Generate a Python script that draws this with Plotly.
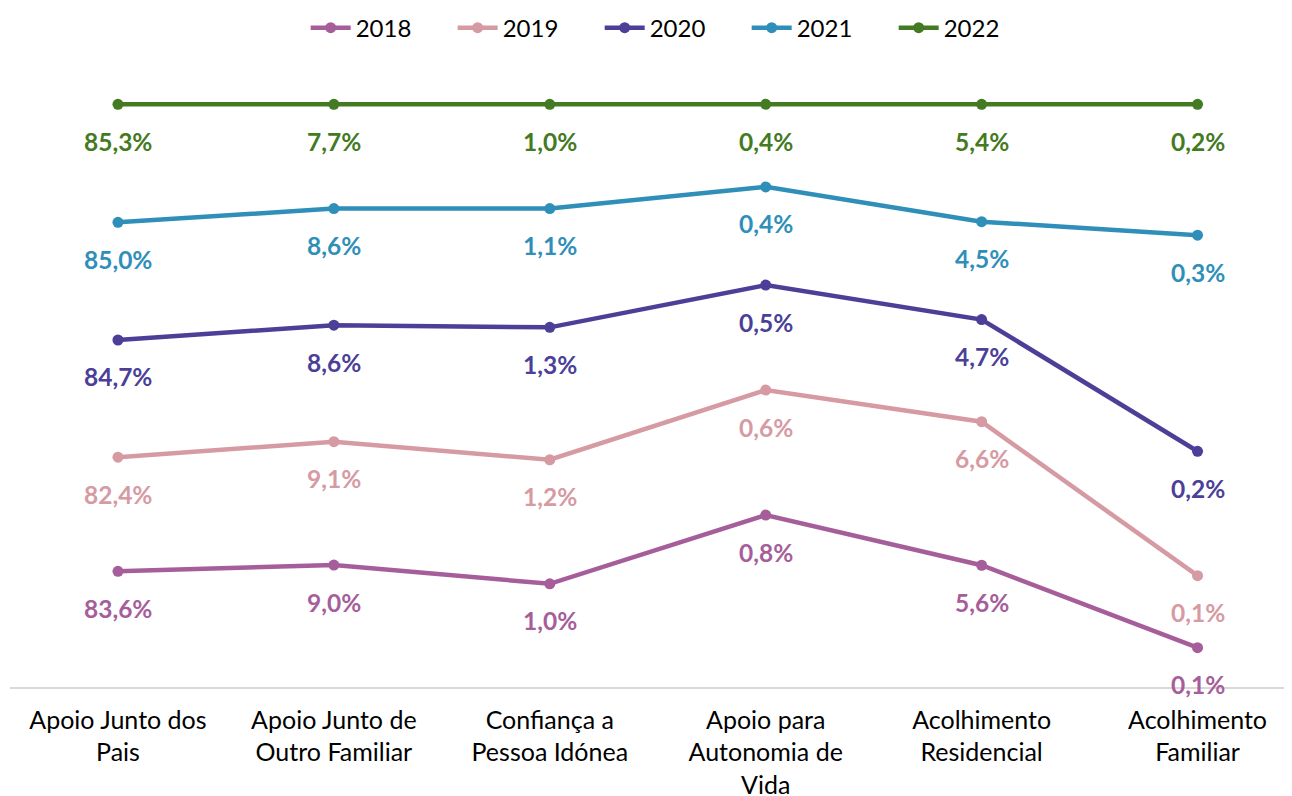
import numpy as np
import plotly.graph_objects as go

categories = ["Apoio Junto dos<br>Pais", "Apoio Junto de<br>Outro Familiar", "Confiança a<br>Pessoa Idónea",
              "Apoio para<br>Autonomia de<br>Vida", "Acolhimento<br>Residencial", "Acolhimento<br>Familiar"]
years = ["2018", "2019", "2020", "2021", "2022"]
v2018 = [83.6, 9.0, 0.99, 0.77, 5.6, 0.06]
v2019 = [82.4, 9.1, 1.19, 0.56, 6.6, 0.11]
v2020 = [84.7, 8.6, 1.27, 0.47, 4.7, 0.19]
v2021 = [85.0, 8.6, 1.14, 0.44, 4.5, 0.33]
v2022 = [85.3, 7.7, 1.00, 0.37, 5.4, 0.20]
colors = ["#A65E9A", "#D69AA3", "#4B3F98", "#2F8FB9", "#437A22"]

values = np.array([v2018, v2019, v2020, v2021, v2022])
cum = np.cumsum(values, axis=0) / values.sum(axis=0) * 100  # 100% stacked line

x = list(range(len(categories)))
fig = go.Figure()
annotations = []
for k, yr in enumerate(years):
    fig.add_trace(go.Scatter(
        x=x, y=cum[k], name=yr, mode="lines+markers",
        line=dict(color=colors[k], width=4.5),
        marker=dict(color=colors[k], size=11),
        cliponaxis=False,
    ))
    for i in x:
        annotations.append(dict(
            x=i, y=cum[k][i], xref="x", yref="y",
            text=f"{values[k][i]:.1f}".replace(".", ",") + "%",
            showarrow=False, yshift=-37,
            font=dict(family="Lato", size=24.5, color=colors[k], weight="bold"),
        ))

fig.update_layout(
    width=1284, height=788,
    margin=dict(l=1.5, r=0, t=38, b=109.3, autoexpand=False),
    paper_bgcolor="white", plot_bgcolor="white",
    font=dict(family="Lato", size=25, color="#000000"),
    showlegend=True,
    legend=dict(orientation="h", x=0.5173, xanchor="center", y=1.028, yanchor="middle",
                font=dict(size=24), itemwidth=40, entrywidth=92, traceorder="normal"),
    annotations=annotations,
    xaxis=dict(range=[-0.5, 5.4375], tickmode="array", tickvals=x, ticktext=categories,
               showgrid=False, zeroline=False, showline=True, linecolor="#D9D9D9", linewidth=1.5,
               ticks="", ticklabelstandoff=10, tickfont=dict(size=25)),
    yaxis=dict(range=[0, 110], visible=False, showgrid=False, zeroline=False),
)
fig.write_html("out.html")
